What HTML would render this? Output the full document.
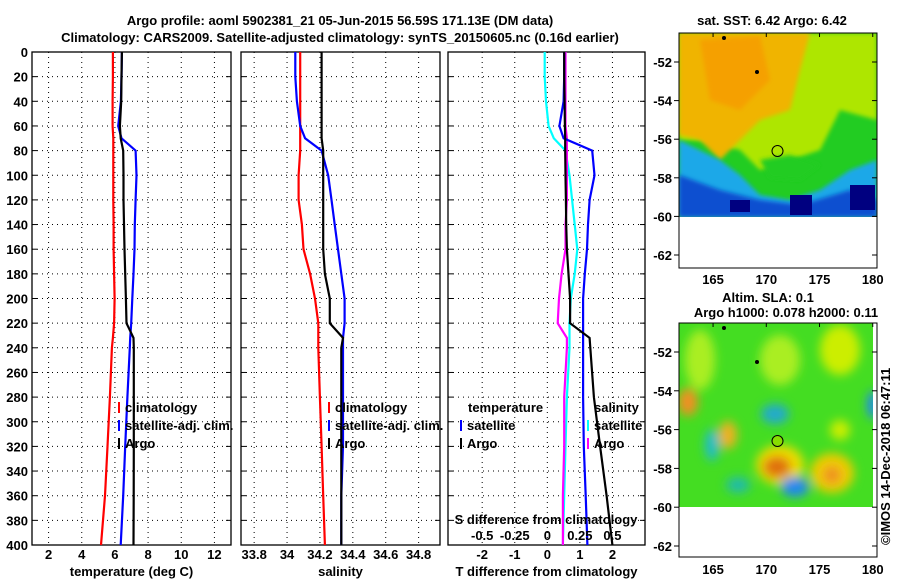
<!DOCTYPE html>
<html><head><meta charset="utf-8">
<style>
body{margin:0;background:#fff;}
svg text{font-family:"Liberation Sans",sans-serif;font-weight:bold;font-size:13px;fill:#000;}
</style></head>
<body>
<svg id="c" width="900" height="580" xmlns="http://www.w3.org/2000/svg">
<defs>
<filter id="bl" x="-50%" y="-50%" width="200%" height="200%"><feGaussianBlur stdDeviation="5"/></filter>
<filter id="bl2" x="-50%" y="-50%" width="200%" height="200%"><feGaussianBlur stdDeviation="2"/></filter>
<clipPath id="cm1"><rect x="679" y="33" width="198" height="184"/></clipPath>
<clipPath id="cm2"><rect x="679" y="323" width="194" height="184"/></clipPath>
</defs>
<text x="340" y="25" text-anchor="middle">Argo profile: aoml 5902381_21 05-Jun-2015 56.59S 171.13E (DM data)</text>
<text x="340" y="42" text-anchor="middle">Climatology: CARS2009. Satellite-adjusted climatology: synTS_20150605.nc (0.16d earlier)</text>

<!-- top map -->
<g>
<g clip-path="url(#cm1)">
<rect x="679" y="33" width="198" height="184" fill="#22cc22"/>
<polygon points="679,33 877,33 877,120 840,110 820,150 790,160 760,170 740,150 700,140 679,140" fill="#aee600" filter="url(#bl2)"/>
<polygon points="679,33 810,33 800,70 790,110 760,120 740,140 720,160 700,140 679,135" fill="#f0b400" filter="url(#bl2)"/>
<polygon points="700,40 760,36 770,80 740,110 710,100" fill="#f5a000" filter="url(#bl2)"/>
<polygon points="679,140 720,160 740,175 760,195 790,200 820,190 850,170 877,160 877,217 679,217" fill="#1aa8e8" filter="url(#bl2)"/>
<polygon points="679,175 720,190 760,200 800,205 850,190 877,200 877,217 679,217" fill="#1050d0" filter="url(#bl2)"/>
<rect x="730" y="200" width="20" height="12" fill="#000080"/><rect x="790" y="195" width="22" height="20" fill="#000080"/><rect x="850" y="185" width="25" height="25" fill="#000080"/>
<polygon points="760,160 790,155 820,165 800,180 770,178" fill="#22cc22" filter="url(#bl2)"/>
</g>
<rect x="679" y="33" width="198" height="235" fill="none" stroke="#000"/>
<circle cx="777.5" cy="151" r="5.5" fill="none" stroke="#000"/>
<text x="772" y="25" text-anchor="middle" font-size="12">sat. SST: 6.42 Argo: 6.42</text>
</g>

<!-- bottom map -->
<g>
<g clip-path="url(#cm2)">
<rect x="679" y="323" width="194" height="184" fill="#44dd22"/>
<g filter="url(#bl)">
<ellipse cx="700" cy="360" rx="15" ry="30" fill="#aaee22"/>
<ellipse cx="780" cy="360" rx="20" ry="25" fill="#aaee22"/>
<ellipse cx="840" cy="350" rx="20" ry="25" fill="#ccee00"/>
<ellipse cx="688" cy="402" rx="10" ry="14" fill="#f09020"/>
<ellipse cx="728" cy="435" rx="9" ry="14" fill="#f0b020"/>
<ellipse cx="780" cy="465" rx="24" ry="20" fill="#eedd00"/>
<ellipse cx="777" cy="467" rx="14" ry="11" fill="#e07010"/>
<ellipse cx="832" cy="473" rx="22" ry="20" fill="#eecc00"/>
<ellipse cx="832" cy="475" rx="9" ry="9" fill="#f09020"/>
<ellipse cx="795" cy="487" rx="14" ry="10" fill="#2288ee"/>
<ellipse cx="775" cy="414" rx="14" ry="10" fill="#22aacc"/>
<ellipse cx="712" cy="445" rx="7" ry="16" fill="#22bbcc"/>
<ellipse cx="738" cy="485" rx="12" ry="8" fill="#22bbaa"/>
<ellipse cx="873" cy="405" rx="6" ry="14" fill="#2288ee"/>
<ellipse cx="840" cy="430" rx="10" ry="10" fill="#ccee00"/>
</g>
</g>
<rect x="679" y="323" width="198" height="234" fill="none" stroke="#000"/>
<circle cx="777.5" cy="441" r="5.5" fill="#88dd00" stroke="#000"/>
<text x="768" y="302" text-anchor="middle" font-size="12">Altim. SLA: 0.1</text>
<text x="786" y="317" text-anchor="middle" font-size="12">Argo h1000: 0.078 h2000: 0.11</text>
</g>
<text transform="translate(890,545) rotate(-90)" font-size="11" font-weight="normal">©IMOS 14-Dec-2018 06:47:11</text>
</svg>
<script>
const depths=[0,20,40,60,70,80,100,120,140,160,180,200,220,232,240,280,320,360,400];
const tClim=[5.88,5.88,5.86,5.86,5.9,5.9,5.9,5.9,5.92,5.92,5.95,5.98,5.95,5.88,5.82,5.7,5.55,5.4,5.16];
const tSat=[6.42,6.4,6.36,6.2,6.4,7.25,7.3,7.25,7.2,7.18,7.12,7.05,6.98,6.92,6.9,6.75,6.62,6.5,6.35];
const tArgo=[6.42,6.4,6.38,6.3,6.35,6.5,6.52,6.52,6.55,6.58,6.62,6.66,6.7,7.12,7.14,7.14,7.14,7.13,7.12];
const sClim=[34.08,34.08,34.08,34.08,34.08,34.08,34.07,34.07,34.09,34.1,34.14,34.17,34.19,34.19,34.19,34.2,34.21,34.22,34.23];
const sSat=[34.05,34.05,34.06,34.08,34.11,34.21,34.25,34.27,34.29,34.31,34.33,34.35,34.35,34.34,34.34,34.34,34.34,34.33,34.33];
const sArgo=[34.21,34.21,34.21,34.21,34.21,34.22,34.22,34.22,34.22,34.22,34.23,34.26,34.26,34.34,34.33,34.33,34.33,34.33,34.33];
const dTsat=[0.52,0.52,0.5,0.37,0.5,1.38,1.45,1.3,1.25,1.22,1.15,1.1,1.1,1.1,1.1,1.1,1.12,1.18,1.23];
const dTargo=[0.52,0.52,0.53,0.54,0.55,0.55,0.56,0.57,0.58,0.6,0.65,0.7,0.7,1.3,1.32,1.43,1.62,1.82,2.0];
const dSsat=[-0.02,-0.02,-0.01,0.01,0.05,0.14,0.17,0.19,0.21,0.23,0.21,0.18,0.17,0.17,0.17,0.15,0.14,0.13,0.12];
const dSargo=[0.14,0.14,0.14,0.14,0.15,0.15,0.15,0.15,0.14,0.14,0.11,0.09,0.08,0.15,0.15,0.13,0.13,0.12,0.12];
const yTicks=[0,20,40,60,80,100,120,140,160,180,200,220,240,260,280,300,320,340,360,380,400];
const tTicks=[2,4,6,8,10,12];
const sTicks=[33.8,34,34.2,34.4,34.6,34.8];
const sTickLabels=['33.8','34','34.2','34.4','34.6','34.8'];
const dTTicks=[-2,-1,0,1,2];
const dSTicks=[-0.5,-0.25,0,0.25,0.5];
const dSTickLabels=['-0.5','-0.25','0','0.25','0.5'];
const lonTicks=[165,170,175,180];
const latTicks=[-52,-54,-56,-58,-60,-62];

const svg=document.getElementById('c');
const NS='http://www.w3.org/2000/svg';
function mk(tag,attrs,parent){const e=document.createElementNS(NS,tag);for(const k in attrs)e.setAttribute(k,attrs[k]);(parent||svg).appendChild(e);return e;}
const Y0=52,Y1=545;
const y=d=>Y0+(d/400)*(Y1-Y0);
function scale(d0,d1,p0,p1){return v=>p0+(v-d0)/(d1-d0)*(p1-p0);}
const panels=[
 {name:'temperature',x0:32,x1:231,sx:scale(1,13,32,231),ticks:tTicks,labels:tTicks.map(String),title:'temperature (deg C)'},
 {name:'salinity',x0:241,x1:440,sx:scale(33.72,34.93,241,440),ticks:sTicks,labels:sTickLabels,title:'salinity'},
 {name:'difference',x0:448,x1:645,sx:scale(-3.05,3.0,448,645),ticks:dTTicks,labels:dTTicks.map(String),title:'T difference from climatology'}
];
function line(xs,sx,color,name,g){
  const pts=depths.map((d,i)=>sx(xs[i]).toFixed(1)+','+y(d).toFixed(1)).join(' ');
  const p=mk('polyline',{points:pts,fill:'none',stroke:color,'stroke-width':2.2},g);
  
  
}
panels.forEach((P,pi)=>{
  const g=mk('g',{});
  
  
  yTicks.forEach(t=>{if(t>0&&t<400){const l=mk('line',{x1:P.x0,x2:P.x1,y1:y(t),y2:y(t),stroke:'#000','stroke-dasharray':'1,4'},g);
    
    
    mk('line',{x1:P.x0,x2:P.x0+5,y1:y(t),y2:y(t),stroke:'#000'},g);mk('line',{x1:P.x1-5,x2:P.x1,y1:y(t),y2:y(t),stroke:'#000'},g);}});
  P.ticks.forEach((t,i)=>{const xx=P.sx(t);
    const l=mk('line',{x1:xx,x2:xx,y1:Y0,y2:Y1,stroke:'#000','stroke-dasharray':'1,4'},g);
    
    
    const tx=mk('text',{x:xx,y:559,'text-anchor':'middle'},g);tx.textContent=P.labels[i];
    
    });
  const ti=mk('text',{x:(P.x0+P.x1)/2,y:576,'text-anchor':'middle'},g);ti.textContent=P.title;
  
  
  const fr=mk('rect',{x:P.x0,y:Y0,width:P.x1-P.x0,height:Y1-Y0,fill:'none',stroke:'#000','stroke-width':1.3},g);
  
  
  if(pi===0){yTicks.forEach(t=>{const tx=mk('text',{x:28,y:y(t)+5,'text-anchor':'end'},g);tx.textContent=t;
    
    });}
  P.g=g;
});
line(tClim,panels[0].sx,'#f00','temp-climatology-line',panels[0].g);
line(tSat,panels[0].sx,'#00f','temp-satellite-line',panels[0].g);
line(tArgo,panels[0].sx,'#000','temp-argo-line',panels[0].g);
line(sClim,panels[1].sx,'#f00','sal-climatology-line',panels[1].g);
line(sSat,panels[1].sx,'#00f','sal-satellite-line',panels[1].g);
line(sArgo,panels[1].sx,'#000','sal-argo-line',panels[1].g);
const sxS=scale(-0.7625,0.75,448,645);
line(dSsat,sxS,'#0ff','s-diff-satellite-line',panels[2].g);
line(dSargo,sxS,'#f0f','s-diff-argo-line',panels[2].g);
line(dTsat,panels[2].sx,'#00f','t-diff-satellite-line',panels[2].g);
line(dTargo,panels[2].sx,'#000','t-diff-argo-line',panels[2].g);
dSTicks.forEach((t,i)=>{const tx=mk('text',{x:sxS(t),y:540,'text-anchor':'middle'});tx.textContent=dSTickLabels[i];
  
  });
const st=mk('text',{x:546,y:524,'text-anchor':'middle'});st.textContent='S difference from climatology';


function legend(x,yy,color,label){
  const g=mk('g',{});
  
  
  mk('line',{x1:x,x2:x,y1:yy-10,y2:yy+1,stroke:color,'stroke-width':2},g);
  const t=mk('text',{x:x+6,y:yy},g);t.textContent=label;
}
[['#f00','climatology'],['#00f','satellite-adj. clim.'],['#000','Argo']].forEach((e,i)=>{legend(119,412+i*18,e[0],e[1]);legend(329,412+i*18,e[0],e[1]);});
const lt=mk('text',{x:468,y:412});lt.textContent='temperature';


legend(461,430,'#00f','satellite');legend(461,448,'#000','Argo');
const ls=mk('text',{x:594,y:412});ls.textContent='salinity';


legend(588,430,'#0ff','satellite');legend(588,448,'#f0f','Argo');
// map axes
const lonX=scale(161.8,180.4,679,877);
function mapAxes(top,latY,labY){
  latTicks.forEach(t=>{const yy=latY(t);
    const tx=mk('text',{x:672,y:yy+5,'text-anchor':'end'});tx.textContent=t;
    
    
    mk('line',{x1:679,x2:674,y1:yy,y2:yy,stroke:'#000'});mk('line',{x1:877,x2:872,y1:yy,y2:yy,stroke:'#000'});});
  lonTicks.forEach(t=>{const xx=lonX(t);
    const tx=mk('text',{x:xx,y:labY,'text-anchor':'middle'});tx.textContent=t;
    
    
    mk('line',{x1:xx,x2:xx,y1:top,y2:top+4,stroke:'#000'});});
}
mapAxes(33,scale(-52,-62,62,255),284);
mapAxes(323,scale(-52,-62,352,546),574);
[[724,38],[757,72],[724,328],[757,362]].forEach(p=>{const d=mk('circle',{cx:p[0],cy:p[1],r:2,fill:'#000'});
  
  });
</script>
</body></html>
